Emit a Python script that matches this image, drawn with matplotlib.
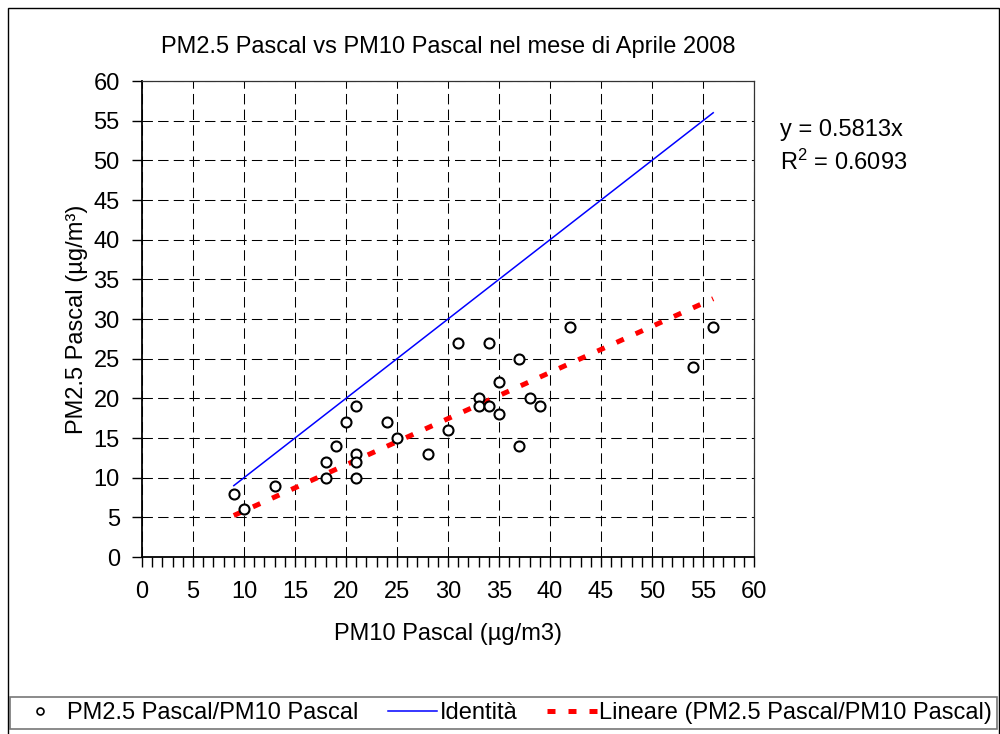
import matplotlib
matplotlib.use("Agg")
import matplotlib.pyplot as plt
from matplotlib.lines import Line2D
from matplotlib.patches import Rectangle
import numpy as np

plt.rcParams['font.family'] = ['Liberation Sans', 'DejaVu Sans']
plt.rcParams['mathtext.fontset'] = 'custom'
plt.rcParams['mathtext.rm'] = 'Liberation Sans'

# PM10 vs PM2.5 daily values, April 2008
pm10 = [9, 10, 13, 18, 18, 19, 20, 21, 21, 21, 21, 24, 25, 28, 30, 31,
        33, 33, 34, 34, 35, 35, 37, 37, 38, 39, 42, 54, 56]
pm25 = [8, 6, 9, 12, 10, 14, 17, 19, 13, 12, 10, 17, 15, 13, 16, 27,
        20, 19, 27, 19, 22, 18, 25, 14, 20, 19, 29, 24, 29]

eq_text = "y = 0.5813x"
r2_text = r"R$\mathregular{^2}$ = 0.6093"

FS = 17

x = np.array(pm10, dtype=float)
y = np.array(pm25, dtype=float)
slope = np.sum(x * y) / np.sum(x * x)  # fit through origin
xl = np.array([x.min(), x.max()])

fig = plt.figure(figsize=(10, 7.34), dpi=100)
ax = fig.add_axes([0.142, 0.2411, 0.612, 0.6485])

ax.scatter(x, y, s=52, facecolors='white', edgecolors='black',
           linewidths=1.5, zorder=4)
ax.plot(xl, xl, color='#0000ff', lw=1.1, zorder=3)
ax.plot(xl, slope * xl, color='#ff0000', lw=3.6,
        linestyle=(0, (1.6, 2.6)), dash_capstyle='butt', zorder=3)

ax.set_xlim(0, 60)
ax.set_ylim(0, 60)
ax.set_xticks(np.arange(0, 61, 5))
ax.set_yticks(np.arange(0, 61, 5))
ax.set_xticks(np.arange(0, 61, 1), minor=True)
ax.tick_params(axis='both', which='major', direction='out', length=7,
               width=1, labelsize=FS, color='black')
ax.tick_params(axis='x', which='major', pad=10)
ax.tick_params(axis='y', which='major', pad=9)
ax.tick_params(axis='x', which='minor', direction='out', length=7, width=1)
ax.grid(True, which='major', color='black', lw=0.75,
        linestyle=(0, (10, 5)))
ax.set_axisbelow(True)

for s in ['left', 'bottom']:
    ax.spines[s].set_linewidth(1.3)
for s in ['top', 'right']:
    ax.spines[s].set_linewidth(0.9)
    ax.spines[s].set_color('#333333')

ax.set_title("PM2.5 Pascal vs PM10 Pascal nel mese di Aprile 2008",
             fontsize=FS, pad=20)
ax.set_xlabel("PM10 Pascal (µg/m3)", fontsize=FS, labelpad=15)
ax.set_ylabel("PM2.5 Pascal (µg/m³)", fontsize=FS, labelpad=4)

fig.text(0.780, 1 - 130 / 734, eq_text, fontsize=FS, va='center', ha='left')
fig.text(0.780, 1 - 162 / 734, r2_text, fontsize=FS, va='center', ha='left')

# outer chart border
fig.add_artist(Rectangle((8 / 1000, -0.01), 991 / 1000, 1 - 8 / 734 + 0.01,
                         transform=fig.transFigure, fill=False,
                         edgecolor='black', lw=1))

handles = [
    Line2D([], [], marker='o', linestyle='none', markerfacecolor='white',
           markeredgecolor='black', markersize=5, markeredgewidth=1.2),
    Line2D([], [], color='#0000ff', lw=1.1),
    Line2D([], [], color='#ff0000', lw=3.6, linestyle=(0, (1.6, 2.6)),
           dash_capstyle='butt'),
]
labels = ["PM2.5 Pascal/PM10 Pascal", "Identità",
          "Lineare (PM2.5 Pascal/PM10 Pascal)"]
leg = fig.legend(handles, labels, loc='center', mode='expand',
                 bbox_to_anchor=(10 / 1000, 1 - 731 / 734, 987 / 1000, 36 / 734),
                 ncol=3, fontsize=FS, frameon=True, fancybox=False,
                 edgecolor='#555555', handlelength=2.1, handletextpad=0.1,
                 columnspacing=0.1, borderpad=0.2, borderaxespad=0)
leg.get_frame().set_linewidth(1.2)

fig.savefig("out.png", dpi=100)
